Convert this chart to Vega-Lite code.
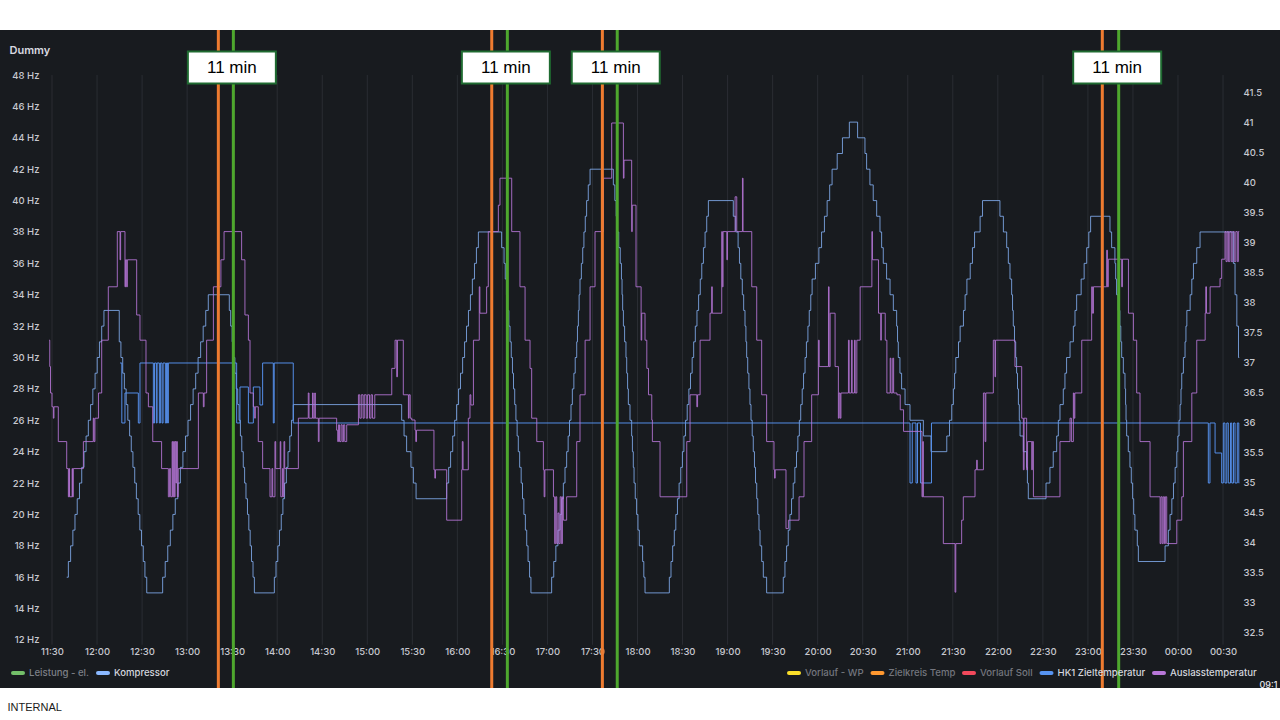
{
  "$schema": "https://vega.github.io/schema/vega-lite/v6.json",
  "width": 1280,
  "height": 658,
  "autosize": {"type": "none"},
  "padding": {"left": 0, "right": 0, "top": 30, "bottom": 32},
  "background": "#ffffff",
  "config": {
    "view": {"fill": "#181b1f", "stroke": null},
    "font": "Inter",
    "axis": {"labelFont": "Inter", "labelFontSize": 9.5, "labelFontWeight": 500, "labelColor": "#c7c8cf", "domain": false, "ticks": false, "tickSize": 0, "grid": false, "labelFlush": false, "labelOverlap": false}
  },
  "datasets": {
    "grid": [{"m":0},{"m":30},{"m":60},{"m":90},{"m":120},{"m":150},{"m":180},{"m":210},{"m":240},{"m":270},{"m":300},{"m":330},{"m":360},{"m":390},{"m":420},{"m":450},{"m":480},{"m":510},{"m":540},{"m":570},{"m":600},{"m":630},{"m":660},{"m":690},{"m":720},{"m":750},{"m":780}],
    "komp": [
      {"m":9.8,"v":16},{"m":10.9,"v":17},{"m":12.4,"v":18},{"m":13.9,"v":19},{"m":15.3,"v":20},{"m":16.8,"v":21},{"m":18.3,"v":22},{"m":19.8,"v":23},{"m":21.3,"v":24},{"m":22.7,"v":25},{"m":24.2,"v":26},{"m":25.7,"v":27},{"m":27.2,"v":28},{"m":28.7,"v":29},{"m":30.1,"v":30},{"m":31.6,"v":31},{"m":33.1,"v":32},{"m":34.6,"v":33},
      {"m":44.8,"v":31},{"m":45.9,"v":30},{"m":47.1,"v":29},{"m":48.2,"v":28},{"m":49.4,"v":27},{"m":50.5,"v":26},{"m":51.7,"v":25},{"m":52.8,"v":24},{"m":53.9,"v":23},{"m":55.1,"v":22},{"m":56.2,"v":21},{"m":57.4,"v":20},{"m":58.5,"v":19},{"m":59.6,"v":18},{"m":60.8,"v":17},{"m":61.9,"v":16},{"m":63.1,"v":15},
      {"m":73.7,"v":16},{"m":75.4,"v":17},{"m":77.1,"v":18},{"m":78.8,"v":19},{"m":80.5,"v":20},{"m":82.1,"v":21},{"m":83.8,"v":22},{"m":85.5,"v":23},{"m":87.2,"v":24},{"m":88.9,"v":25},{"m":90.6,"v":26},{"m":92.3,"v":27},{"m":94.0,"v":28},{"m":95.7,"v":29},{"m":97.3,"v":30},{"m":99.0,"v":31},{"m":100.7,"v":32},{"m":102.4,"v":33},{"m":104.1,"v":34},
      {"m":118.1,"v":33},{"m":119.0,"v":32},{"m":120.0,"v":31},{"m":120.9,"v":30},{"m":121.8,"v":29},{"m":122.7,"v":28},{"m":123.7,"v":27},{"m":124.6,"v":26},{"m":125.5,"v":25},{"m":126.4,"v":24},{"m":127.4,"v":23},{"m":128.3,"v":22},{"m":129.2,"v":21},{"m":130.2,"v":20},{"m":131.1,"v":19},{"m":132.0,"v":18},{"m":132.9,"v":17},{"m":133.9,"v":16},{"m":134.8,"v":15},
      {"m":148.1,"v":16},{"m":149.2,"v":17},{"m":150.4,"v":18},{"m":151.5,"v":19},{"m":152.7,"v":20},{"m":153.8,"v":21},{"m":154.9,"v":22},{"m":156.1,"v":23},{"m":157.2,"v":24},{"m":158.4,"v":25},{"m":159.5,"v":26},{"m":160.7,"v":27},
      {"m":232.9,"v":26},{"m":234.5,"v":25},{"m":236.2,"v":24},{"m":239.1,"v":23},{"m":240.7,"v":22},{"m":242.5,"v":21},
      {"m":262.9,"v":22},{"m":264.2,"v":23},{"m":265.5,"v":24},{"m":266.9,"v":25},{"m":268.2,"v":26},{"m":269.5,"v":27},{"m":270.8,"v":28},{"m":272.1,"v":29},{"m":273.5,"v":30},{"m":274.8,"v":31},{"m":276.1,"v":32},{"m":277.4,"v":33},{"m":278.7,"v":34},{"m":280.0,"v":35},{"m":281.4,"v":36},{"m":282.7,"v":37},{"m":284.0,"v":38},
      {"m":299.5,"v":37},{"m":301.1,"v":36},{"m":301.9,"v":35},{"m":302.7,"v":34},{"m":303.5,"v":33},{"m":304.3,"v":32},{"m":305.1,"v":31},{"m":305.9,"v":30},{"m":306.7,"v":29},{"m":307.4,"v":28},{"m":308.2,"v":27},{"m":309.0,"v":26},{"m":309.8,"v":25},{"m":310.6,"v":24},{"m":311.5,"v":23},{"m":312.5,"v":22},{"m":313.4,"v":21},{"m":314.3,"v":20},{"m":315.3,"v":19},{"m":316.2,"v":18},{"m":317.1,"v":17},{"m":318.1,"v":16},{"m":319.0,"v":15},
      {"m":332.8,"v":16},{"m":334.2,"v":17},{"m":335.6,"v":18},{"m":337.0,"v":19},{"m":338.4,"v":20},{"m":339.5,"v":21},{"m":340.6,"v":22},{"m":341.7,"v":23},{"m":342.8,"v":24},{"m":343.8,"v":25},{"m":344.7,"v":26},{"m":345.7,"v":27},{"m":346.6,"v":28},{"m":347.6,"v":29},{"m":348.5,"v":30},{"m":349.5,"v":31},{"m":350.0,"v":32},{"m":350.6,"v":33},{"m":351.1,"v":34},{"m":351.7,"v":35},{"m":352.6,"v":36},{"m":353.5,"v":37},{"m":354.3,"v":38},{"m":355.2,"v":39},{"m":356.1,"v":40},{"m":357.2,"v":41},{"m":358.4,"v":42},
      {"m":373.9,"v":41},{"m":374.9,"v":40},{"m":375.8,"v":39},{"m":376.6,"v":38},{"m":377.5,"v":37},{"m":378.5,"v":36},{"m":379.3,"v":35},{"m":379.7,"v":34},{"m":380.1,"v":33},{"m":380.6,"v":32},{"m":381.4,"v":31},{"m":382.3,"v":30},{"m":382.8,"v":29},{"m":383.4,"v":28},{"m":383.9,"v":27},{"m":385.0,"v":26},{"m":386.1,"v":25},{"m":386.6,"v":24},{"m":387.2,"v":23},{"m":387.7,"v":22},{"m":388.5,"v":21},{"m":389.4,"v":20},{"m":390.3,"v":19},{"m":391.2,"v":18},{"m":393.4,"v":17},{"m":394.2,"v":16},{"m":395.0,"v":15},
      {"m":411.2,"v":16},{"m":412.3,"v":17},{"m":413.4,"v":18},{"m":414.5,"v":19},{"m":415.5,"v":20},{"m":416.6,"v":21},{"m":417.7,"v":22},{"m":418.8,"v":23},{"m":419.9,"v":24},{"m":420.9,"v":25},{"m":422.0,"v":26},{"m":423.1,"v":27},{"m":424.2,"v":28},{"m":425.3,"v":29},{"m":426.4,"v":30},{"m":427.4,"v":31},{"m":428.5,"v":32},{"m":429.6,"v":33},{"m":430.7,"v":34},{"m":431.8,"v":35},{"m":432.8,"v":36},{"m":433.9,"v":37},{"m":435.0,"v":38},{"m":436.1,"v":39},{"m":437.2,"v":40},
      {"m":453.8,"v":39},{"m":455.4,"v":38},{"m":457.0,"v":37},{"m":457.9,"v":36},{"m":458.8,"v":35},{"m":459.8,"v":34},{"m":460.7,"v":33},{"m":461.6,"v":32},{"m":462.2,"v":31},{"m":462.7,"v":30},{"m":463.4,"v":29},{"m":464.2,"v":28},{"m":464.9,"v":27},{"m":465.6,"v":26},{"m":466.4,"v":25},{"m":467.1,"v":24},{"m":467.9,"v":23},{"m":468.6,"v":22},{"m":469.4,"v":21},{"m":470.1,"v":20},{"m":470.9,"v":19},{"m":471.6,"v":18},{"m":472.7,"v":17},{"m":473.8,"v":16},{"m":476.0,"v":15},
      {"m":487.1,"v":16},{"m":488.2,"v":17},{"m":489.3,"v":18},{"m":490.4,"v":19},{"m":491.5,"v":20},{"m":492.6,"v":21},{"m":493.7,"v":22},{"m":494.8,"v":23},{"m":495.9,"v":24},{"m":496.8,"v":25},{"m":497.8,"v":26},{"m":498.7,"v":27},{"m":499.7,"v":28},{"m":500.6,"v":29},{"m":501.6,"v":30},{"m":502.5,"v":31},{"m":503.5,"v":32},{"m":504.4,"v":33},{"m":505.4,"v":34},{"m":506.3,"v":35},{"m":508.5,"v":36},{"m":510.8,"v":37},{"m":512.6,"v":38},{"m":514.5,"v":39},{"m":516.3,"v":40},{"m":518.0,"v":41},{"m":519.6,"v":42},{"m":523.0,"v":43},{"m":526.5,"v":44},{"m":531.1,"v":45},
      {"m":536.6,"v":44},{"m":541.5,"v":43},{"m":542.6,"v":42},{"m":544.8,"v":41},{"m":547.0,"v":40},{"m":549.3,"v":39},{"m":551.5,"v":38},{"m":552.6,"v":37},{"m":553.7,"v":36},{"m":555.9,"v":35},{"m":558.2,"v":34},{"m":560.4,"v":33},{"m":562.6,"v":32},{"m":563.2,"v":31},{"m":563.7,"v":30},{"m":564.8,"v":29},{"m":565.9,"v":28},{"m":568.2,"v":27},{"m":571.5,"v":26},{"m":580.4,"v":25},{"m":585.5,"v":24},
      {"m":596.0,"v":25},{"m":597.8,"v":26},{"m":599.3,"v":27},{"m":600.4,"v":28},{"m":601.2,"v":29},{"m":602.0,"v":30},{"m":603.8,"v":31},{"m":604.9,"v":32},{"m":607.1,"v":33},{"m":608.2,"v":34},{"m":609.4,"v":35},{"m":611.6,"v":36},{"m":613.1,"v":37},{"m":614.5,"v":38},{"m":618.2,"v":39},{"m":619.8,"v":40},
      {"m":631.4,"v":39},{"m":633.7,"v":38},{"m":635.9,"v":37},{"m":637.0,"v":36},{"m":638.1,"v":35},{"m":639.2,"v":34},{"m":639.8,"v":33},{"m":640.3,"v":32},{"m":641.1,"v":31},{"m":641.9,"v":30},{"m":642.5,"v":29},{"m":643.1,"v":28},{"m":643.7,"v":27},{"m":644.3,"v":26},{"m":644.8,"v":25},{"m":647.0,"v":24},{"m":649.2,"v":23},{"m":649.7,"v":22},{"m":650.3,"v":21},
      {"m":662.1,"v":22},{"m":664.7,"v":23},{"m":666.9,"v":24},{"m":669.2,"v":25},{"m":670.3,"v":26},{"m":671.4,"v":27},{"m":673.6,"v":28},{"m":674.7,"v":29},{"m":675.8,"v":30},{"m":678.1,"v":31},{"m":680.3,"v":32},{"m":681.4,"v":33},{"m":682.5,"v":34},{"m":685.5,"v":35},{"m":687.5,"v":36},{"m":689.2,"v":37},{"m":690.6,"v":38},{"m":691.8,"v":39},
      {"m":704.7,"v":38},{"m":705.8,"v":37},{"m":708.0,"v":36},{"m":708.5,"v":35},{"m":709.1,"v":34},{"m":710.2,"v":33},{"m":711.3,"v":32},{"m":711.9,"v":31},{"m":712.5,"v":30},{"m":713.6,"v":29},{"m":714.7,"v":28},{"m":715.1,"v":27},{"m":715.4,"v":26},{"m":715.8,"v":25},{"m":716.9,"v":24},{"m":718.0,"v":23},{"m":718.9,"v":22},{"m":719.8,"v":21},{"m":720.5,"v":20},{"m":721.3,"v":19},{"m":722.9,"v":18},{"m":723.6,"v":17},
      {"m":741.4,"v":18},{"m":743.6,"v":19},{"m":744.7,"v":20},{"m":745.9,"v":21},{"m":747.0,"v":22},{"m":748.1,"v":23},{"m":749.2,"v":24},{"m":749.9,"v":25},{"m":750.7,"v":26},{"m":751.4,"v":27},{"m":752.0,"v":28},{"m":752.5,"v":29},{"m":753.6,"v":30},{"m":754.7,"v":31},{"m":755.3,"v":32},{"m":755.9,"v":33},{"m":758.1,"v":34},{"m":759.2,"v":35},{"m":760.3,"v":36},{"m":762.5,"v":37},{"m":764.7,"v":38},
      {"m":786.9,"v":36},{"m":788.0,"v":34},{"m":789.2,"v":32},{"m":790.3,"v":30},{"m":790.8,"v":30}
    ],
    "hk1": [
      {"m":45.3,"v":37},{"m":46.5,"v":36},{"m":48.6,"v":36.5},{"m":57.5,"v":36},{"m":58.6,"v":37},{"m":67.5,"v":36},{"m":68.3,"v":37},{"m":69.5,"v":36},{"m":70.0,"v":37},{"m":71.5,"v":36},{"m":72.2,"v":37},{"m":73.3,"v":36},{"m":74.0,"v":37},{"m":75.5,"v":36},{"m":76.3,"v":37},{"m":77.0,"v":36},{"m":77.5,"v":37},
      {"m":123.0,"v":36},{"m":125.2,"v":36.6},{"m":130.8,"v":36},{"m":134.1,"v":36.6},{"m":138.5,"v":36.3},{"m":140.3,"v":37},{"m":147.4,"v":36},{"m":148.0,"v":37},{"m":160.7,"v":36},
      {"m":571.5,"v":35},{"m":573.0,"v":36},{"m":575.5,"v":35},{"m":576.5,"v":36},{"m":578.5,"v":35},{"m":585.8,"v":36},
      {"m":770.2,"v":35},{"m":771.3,"v":36},{"m":774.7,"v":35.5},{"m":779.1,"v":35},{"m":780.2,"v":36},{"m":781.3,"v":35},{"m":782.5,"v":36},{"m":783.5,"v":35},{"m":785.0,"v":36},{"m":785.8,"v":35},{"m":787.0,"v":36},{"m":788.0,"v":35},{"m":789.5,"v":36},{"m":790.5,"v":35},{"m":790.8,"v":35}
    ],
    "ausl": [
      {"m":-2.0,"v":37.38},{"m":-1.5,"v":36.94},{"m":-1.0,"v":36.5},{"m":0.0,"v":36.27},{"m":0.9,"v":36.08},{"m":1.3,"v":36.27},{"m":4.2,"v":35.69},{"m":9.8,"v":35.24},{"m":10.9,"v":34.77},{"m":11.4,"v":35.24},{"m":11.7,"v":34.77},{"m":13.4,"v":35.24},{"m":13.7,"v":34.77},{"m":14.2,"v":35.24},{"m":20.9,"v":35.69},{"m":27.5,"v":36.08},{"m":28.0,"v":35.69},{"m":28.6,"v":36.08},{"m":31.0,"v":36.5},{"m":33.1,"v":37.38},{"m":37.5,"v":38.27},{"m":43.5,"v":39.19},{"m":45.3,"v":38.72},{"m":45.7,"v":39.19},{"m":48.6,"v":38.27},{"m":49.0,"v":38.72},{"m":49.7,"v":38.27},{"m":50.2,"v":38.72},{"m":56.4,"v":37.8},{"m":58.6,"v":37.38},{"m":62.6,"v":36.5},{"m":64.2,"v":36.27},{"m":67.1,"v":35.69},{"m":73.0,"v":35.24},
      {"m":77.5,"v":34.77},{"m":78.3,"v":35.24},{"m":79.0,"v":34.77},{"m":80.0,"v":35.69},{"m":80.4,"v":34.77},{"m":81.0,"v":35.69},{"m":81.5,"v":34.77},{"m":82.0,"v":35.69},{"m":82.5,"v":35.0},{"m":83.0,"v":35.69},{"m":83.5,"v":34.77},{"m":84.1,"v":35.24},
      {"m":97.5,"v":36.5},{"m":100.8,"v":36.27},{"m":101.3,"v":36.5},{"m":103.0,"v":37.38},{"m":107.5,"v":38.27},{"m":112.5,"v":38.72},{"m":114.6,"v":39.19},{"m":126.3,"v":38.72},{"m":128.5,"v":37.8},{"m":130.8,"v":37.38},{"m":131.9,"v":36.5},{"m":134.1,"v":36.27},{"m":135.0,"v":36.08},{"m":135.4,"v":36.27},{"m":137.4,"v":35.69},{"m":140.3,"v":35.24},
      {"m":145.2,"v":34.77},{"m":146.5,"v":35.24},{"m":147.0,"v":34.77},{"m":148.5,"v":35.69},{"m":149.0,"v":35.24},{"m":152.0,"v":35.69},{"m":152.4,"v":34.77},{"m":153.5,"v":35.24},{"m":154.0,"v":34.77},{"m":154.5,"v":35.69},{"m":155.0,"v":35.24},
      {"m":164.1,"v":36.08},{"m":170.7,"v":36.5},{"m":171.2,"v":36.08},{"m":173.5,"v":36.5},{"m":174.0,"v":36.08},{"m":175.0,"v":36.5},{"m":175.4,"v":36.08},{"m":177.4,"v":35.69},{"m":177.9,"v":36.08},
      {"m":189.6,"v":35.88},{"m":190.3,"v":35.69},{"m":190.8,"v":35.97},{"m":191.5,"v":35.69},{"m":192.5,"v":35.97},{"m":193.3,"v":35.69},{"m":194.2,"v":35.97},{"m":195.0,"v":35.69},{"m":196.3,"v":35.97},
      {"m":204.1,"v":36.47},{"m":205.0,"v":36.08},{"m":206.0,"v":36.47},{"m":207.2,"v":36.08},{"m":208.0,"v":36.47},{"m":209.3,"v":36.08},{"m":210.2,"v":36.47},{"m":211.5,"v":36.08},{"m":212.5,"v":36.47},{"m":213.5,"v":36.08},{"m":215.0,"v":36.47},
      {"m":226.3,"v":36.91},{"m":228.5,"v":37.38},{"m":229.6,"v":36.77},{"m":230.1,"v":37.38},{"m":234.0,"v":36.47},{"m":237.4,"v":36.08},{"m":237.8,"v":36.47},{"m":238.6,"v":36.08},{"m":239.6,"v":36.05},{"m":241.8,"v":35.88},{"m":242.3,"v":35.69},{"m":242.8,"v":35.88},{"m":254.4,"v":35.22},{"m":255.0,"v":35.08},{"m":255.4,"v":35.22},{"m":262.9,"v":34.38},
      {"m":272.9,"v":35.22},{"m":273.3,"v":35.69},{"m":273.8,"v":35.22},{"m":277.3,"v":36.08},{"m":278.4,"v":36.47},{"m":279.0,"v":36.3},{"m":280.7,"v":37.38},{"m":284.6,"v":38.27},{"m":285.0,"v":37.83},{"m":289.5,"v":38.27},{"m":290.6,"v":39.19},{"m":297.3,"v":39.63},{"m":298.4,"v":40.08},{"m":306.2,"v":39.19},{"m":311.7,"v":38.27},{"m":315.1,"v":37.38},{"m":318.4,"v":36.91},{"m":319.5,"v":36.08},{"m":322.9,"v":35.69},{"m":327.3,"v":35.22},{"m":327.8,"v":34.77},{"m":328.3,"v":35.22},
      {"m":334.0,"v":34.77},{"m":334.8,"v":33.99},{"m":335.5,"v":34.77},{"m":336.2,"v":33.99},{"m":337.0,"v":34.5},{"m":337.7,"v":33.99},{"m":338.5,"v":34.77},{"m":339.3,"v":33.99},{"m":340.0,"v":34.77},{"m":340.6,"v":34.38},{"m":342.8,"v":34.77},
      {"m":349.5,"v":35.69},{"m":351.7,"v":36.47},{"m":355.1,"v":37.38},{"m":358.4,"v":38.27},{"m":361.7,"v":39.19},{"m":367.3,"v":40.08},{"m":372.8,"v":41.0},{"m":380.6,"v":40.08},{"m":381.0,"v":40.38},{"m":386.1,"v":39.19},{"m":386.5,"v":39.63},{"m":389.0,"v":38.27},{"m":392.4,"v":37.38},{"m":392.8,"v":37.83},{"m":395.0,"v":37.38},{"m":396.2,"v":36.91},{"m":397.3,"v":36.47},{"m":399.5,"v":36.05},{"m":399.9,"v":35.69},{"m":405.0,"v":34.77},
      {"m":422.8,"v":35.69},{"m":425.0,"v":36.47},{"m":429.5,"v":36.27},{"m":430.0,"v":36.47},{"m":431.7,"v":37.38},{"m":438.3,"v":37.83},{"m":439.4,"v":38.27},{"m":439.8,"v":37.83},{"m":446.1,"v":39.19},{"m":446.5,"v":38.27},{"m":447.0,"v":39.19},{"m":449.5,"v":38.72},{"m":449.9,"v":39.19},{"m":455.0,"v":39.77},{"m":456.1,"v":39.19},{"m":459.9,"v":40.08},{"m":460.3,"v":39.19},{"m":466.1,"v":38.27},{"m":469.4,"v":37.38},{"m":472.7,"v":36.47},{"m":476.0,"v":35.69},{"m":480.9,"v":35.22},{"m":481.3,"v":35.08},{"m":481.7,"v":35.22},{"m":488.9,"v":34.24},{"m":490.5,"v":34.38},
      {"m":497.6,"v":34.77},{"m":500.9,"v":35.69},{"m":506.0,"v":36.47},{"m":510.5,"v":37.38},{"m":511.0,"v":36.94},{"m":517.2,"v":38.27},{"m":517.6,"v":36.94},{"m":518.3,"v":37.83},{"m":521.6,"v":36.94},{"m":523.8,"v":36.08},{"m":524.3,"v":36.5},{"m":525.0,"v":36.08},{"m":525.5,"v":36.5},{"m":530.5,"v":37.38},{"m":531.0,"v":36.5},{"m":532.5,"v":37.38},{"m":533.0,"v":36.5},{"m":534.5,"v":37.38},{"m":535.0,"v":36.5},{"m":536.1,"v":37.38},{"m":538.3,"v":38.27},{"m":546.1,"v":39.19},{"m":546.5,"v":38.72},{"m":550.5,"v":37.83},{"m":552.0,"v":37.38},{"m":552.4,"v":37.83},{"m":555.0,"v":37.38},{"m":556.1,"v":36.5},{"m":558.3,"v":37.08},{"m":558.8,"v":36.5},{"m":560.0,"v":37.08},{"m":560.6,"v":36.5},{"m":562.8,"v":36.47},{"m":565.0,"v":36.22},{"m":567.2,"v":35.86},
      {"m":579.5,"v":34.77},{"m":580.0,"v":35.69},{"m":580.4,"v":34.77},{"m":593.7,"v":33.99},{"m":601.5,"v":33.18},{"m":602.0,"v":33.99},{"m":605.9,"v":34.38},{"m":607.0,"v":34.77},{"m":614.8,"v":35.22},{"m":615.9,"v":35.38},{"m":616.3,"v":35.22},{"m":620.4,"v":36.5},{"m":621.5,"v":35.69},{"m":622.0,"v":36.5},{"m":627.0,"v":37.38},{"m":628.1,"v":36.77},{"m":628.5,"v":37.38},{"m":641.4,"v":36.94},{"m":645.9,"v":36.08},{"m":647.0,"v":35.22},{"m":647.5,"v":36.08},{"m":649.2,"v":35.22},{"m":649.8,"v":35.69},{"m":652.6,"v":35.22},{"m":653.0,"v":35.69},{"m":653.7,"v":34.77},
      {"m":671.4,"v":35.69},{"m":678.1,"v":36.08},{"m":679.0,"v":35.69},{"m":680.3,"v":36.5},{"m":680.8,"v":36.08},{"m":681.3,"v":36.5},{"m":685.9,"v":37.38},{"m":692.5,"v":38.27},{"m":693.0,"v":37.83},{"m":693.7,"v":38.27},{"m":702.5,"v":38.88},{"m":703.0,"v":38.27},{"m":703.6,"v":38.73},{"m":712.5,"v":38.27},{"m":713.0,"v":38.73},{"m":717.0,"v":37.83},{"m":720.3,"v":37.38},{"m":722.5,"v":36.5},{"m":724.7,"v":35.69},{"m":731.4,"v":34.77},{"m":738.1,"v":33.99},{"m":738.7,"v":34.77},{"m":739.5,"v":33.99},{"m":740.2,"v":34.77},{"m":741.0,"v":33.99},{"m":741.6,"v":34.77},{"m":742.5,"v":33.99},
      {"m":749.2,"v":34.38},{"m":752.5,"v":34.77},{"m":753.6,"v":35.69},{"m":759.2,"v":36.5},{"m":762.5,"v":37.38},{"m":768.1,"v":37.83},{"m":768.5,"v":38.27},{"m":769.0,"v":37.83},{"m":771.4,"v":38.27},{"m":778.0,"v":38.41},{"m":779.1,"v":38.73},{"m":781.3,"v":39.19},{"m":782.0,"v":38.69},{"m":782.8,"v":39.19},{"m":783.6,"v":38.69},{"m":784.5,"v":39.19},{"m":785.5,"v":38.69},{"m":786.5,"v":39.19},{"m":787.5,"v":38.69},{"m":788.5,"v":39.19},{"m":789.5,"v":38.69},{"m":790.2,"v":39.19},{"m":790.8,"v":39.19}
    ],
    "notes": [
      {"start":110.8,"end":120.8,"label":"11 min"},
      {"start":292.9,"end":303.3,"label":"11 min"},
      {"start":366.6,"end":376.5,"label":"11 min"},
      {"start":699.6,"end":710.5,"label":"11 min"}
    ]
  },
  "layer": [
    {
      "layer": [
        {
          "data": {"name": "grid"},
          "mark": {"type": "rule", "color": "#2a2d33", "strokeWidth": 1},
          "encoding": {
            "x": {
              "field": "m", "type": "quantitative",
              "scale": {"domain": [-34.64, 817.95], "nice": false, "zero": false},
              "axis": {
                "orient": "bottom", "offset": -47, "labelPadding": 5, "labelOverlap": false, "tickCount": 60,
                "values": [0,30,60,90,120,150,180,210,240,270,300,330,360,390,420,450,480,510,540,570,600,630,660,690,720,750,780],
                "labelExpr": "timeFormat(datetime(2024, 0, 1, 11, 30 + datum.value), '%H:%M')",
                "title": "INTERNAL", "titleX": 7, "titleY": 66, "titleAlign": "left", "titleBaseline": "middle",
                "titleFont": "Liberation Sans", "titleFontSize": 11, "titleFontWeight": "normal", "titleColor": "#1a1a1a"
              }
            },
            "y": {"datum": 48, "type": "quantitative", "scale": {"domain": [8.94, 50.87], "nice": false, "zero": false}},
            "y2": {"datum": 11.7}
          }
        },
        {
          "data": {"name": "komp"},
          "mark": {"type": "line", "interpolate": "step-after", "strokeWidth": 1, "opacity": 0.78},
          "encoding": {
            "x": {"field": "m", "type": "quantitative", "scale": {"domain": [-34.64, 817.95], "nice": false, "zero": false}},
            "y": {
              "field": "v", "type": "quantitative",
              "scale": {"domain": [8.94, 50.87], "nice": false, "zero": false},
              "axis": {
                "orient": "left", "offset": -43, "labelPadding": 4, "labelOverlap": false, "tickCount": 40,
                "values": [12,14,16,18,20,22,24,26,28,30,32,34,36,38,40,42,44,46,48],
                "labelExpr": "datum.value + ' Hz'",
                "title": "Dummy", "titleX": -34, "titleY": 20, "titleAngle": 0, "titleAlign": "left", "titleBaseline": "middle",
                "titleFont": "Inter", "titleFontSize": 11, "titleFontWeight": 600, "titleColor": "#d8d9e0"
              }
            },
            "color": {
              "datum": "Kompressor", "type": "nominal",
              "scale": {"domain": ["Leistung - el.", "Kompressor"], "range": ["#73BF69", "#8AB8FF"]},
              "legend": {
                "orient": "none", "legendX": 11, "legendY": 636, "direction": "horizontal", "title": null, "padding": 0,
                "symbolType": "stroke", "symbolStrokeWidth": 4, "symbolSize": 100, "symbolOpacity": 1,
                "labelFont": "Inter", "labelFontSize": 9.6, "labelFontWeight": 500, "labelOffset": 4, "columnPadding": 1,
                "encode": {
                  "labels": {"update": {"fill": {"signal": "datum.label == 'Kompressor' ? '#d4d6de' : '#7e8088'"}}},
                  "symbols": {"update": {"strokeCap": {"value": "round"}}}
                }
              }
            }
          }
        }
      ]
    },
    {
      "layer": [
        {
          "data": {"name": "hk1"},
          "mark": {"type": "line", "interpolate": "step-after", "strokeWidth": 1, "opacity": 0.95},
          "encoding": {
            "x": {"field": "m", "type": "quantitative", "scale": {"domain": [-34.64, 817.95], "nice": false, "zero": false}},
            "y": {
              "field": "v", "type": "quantitative",
              "scale": {"domain": [31.583, 42.55], "nice": false, "zero": false},
              "axis": {
                "orient": "right", "offset": -41, "labelPadding": 4, "labelOverlap": false, "tickCount": 40,
                "values": [32.5,33,33.5,34,34.5,35,35.5,36,36.5,37,37.5,38,38.5,39,39.5,40,40.5,41,41.5],
                "labelExpr": "'' + datum.value",
                "title": "09:1", "titleX": 20, "titleY": 654, "titleAngle": 0, "titleAlign": "left", "titleBaseline": "middle",
                "titleFont": "Inter", "titleFontSize": 9, "titleFontWeight": 500, "titleColor": "#e6e6ea"
              }
            },
            "color": {
              "datum": "HK1 Zieltemperatur", "type": "nominal",
              "scale": {"domain": ["Vorlauf - WP", "Zielkreis Temp", "Vorlauf Soll", "HK1 Zieltemperatur", "Auslasstemperatur"], "range": ["#FADE2A", "#FF9830", "#F2495C", "#5794F2", "#B877D9"]},
              "legend": {
                "orient": "none", "legendX": 787, "legendY": 636, "direction": "horizontal", "title": null, "padding": 0,
                "symbolType": "stroke", "symbolStrokeWidth": 4, "symbolSize": 100, "symbolOpacity": 1,
                "labelFont": "Inter", "labelFontSize": 9.6, "labelFontWeight": 500, "labelOffset": 4, "columnPadding": 0.5,
                "encode": {
                  "labels": {"update": {"fill": {"signal": "indexof(['HK1 Zieltemperatur', 'Auslasstemperatur'], datum.label) >= 0 ? '#d4d6de' : '#74767e'"}}},
                  "symbols": {"update": {"strokeCap": {"value": "round"}}}
                }
              }
            }
          }
        },
        {
          "data": {"name": "ausl"},
          "mark": {"type": "line", "interpolate": "step-after", "strokeWidth": 1, "opacity": 0.85},
          "encoding": {
            "x": {"field": "m", "type": "quantitative", "scale": {"domain": [-34.64, 817.95], "nice": false, "zero": false}},
            "y": {"field": "v", "type": "quantitative", "scale": {"domain": [31.583, 42.55], "nice": false, "zero": false}},
            "color": {"datum": "Auslasstemperatur", "type": "nominal"}
          }
        },
        {
          "data": {"name": "notes"},
          "mark": {"type": "rule", "color": "#EE7B30", "strokeWidth": 3},
          "encoding": {
            "x": {"field": "start", "type": "quantitative", "scale": {"domain": [-34.64, 817.95], "nice": false, "zero": false}},
            "y": {"datum": 42.55, "type": "quantitative", "scale": {"domain": [31.583, 42.55], "nice": false, "zero": false}},
            "y2": {"datum": 31.583}
          }
        },
        {
          "data": {"name": "notes"},
          "mark": {"type": "rule", "color": "#4EA72E", "strokeWidth": 3},
          "encoding": {
            "x": {"field": "end", "type": "quantitative", "scale": {"domain": [-34.64, 817.95], "nice": false, "zero": false}},
            "y": {"datum": 42.55, "type": "quantitative", "scale": {"domain": [31.583, 42.55], "nice": false, "zero": false}},
            "y2": {"datum": 31.583}
          }
        },
        {
          "data": {"name": "notes"},
          "mark": {"type": "point", "shape": "M-1,-0.3636L1,-0.3636L1,0.3636L-1,0.3636Z", "size": 7744, "filled": true, "fill": "#ffffff", "stroke": "#1f6b31", "strokeWidth": 2, "opacity": 1, "xOffset": -1.5},
          "encoding": {
            "x": {"field": "end", "type": "quantitative", "scale": {"domain": [-34.64, 817.95], "nice": false, "zero": false}},
            "y": {"datum": 41.925, "type": "quantitative", "scale": {"domain": [31.583, 42.55], "nice": false, "zero": false}}
          }
        },
        {
          "data": {"name": "notes"},
          "mark": {"type": "text", "font": "Liberation Sans", "fontSize": 17, "color": "#000000", "align": "center", "baseline": "middle", "xOffset": -1.5, "dy": 0.5},
          "encoding": {
            "x": {"field": "end", "type": "quantitative", "scale": {"domain": [-34.64, 817.95], "nice": false, "zero": false}},
            "y": {"datum": 41.925, "type": "quantitative", "scale": {"domain": [31.583, 42.55], "nice": false, "zero": false}},
            "text": {"field": "label"}
          }
        }
      ]
    }
  ],
  "resolve": {"scale": {"y": "independent", "color": "independent"}}
}
